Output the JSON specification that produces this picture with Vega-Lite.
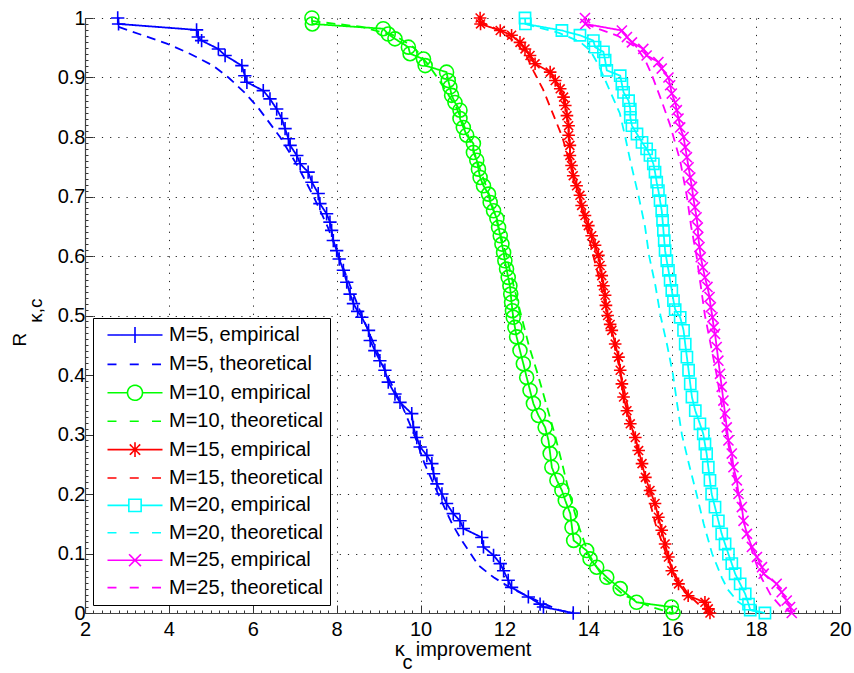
{
  "$schema": "https://vega.github.io/schema/vega-lite/v6.json",
  "width": 755,
  "height": 595,
  "autosize": {"type": "none"},
  "padding": {"left": 85, "top": 18, "right": 14, "bottom": 60},
  "config": {"view": {"stroke": null}, "font": "Liberation Sans"},
  "data": {"values": [
    {"s":"M=5, empirical","x":2.78,"y":1},{"s":"M=5, empirical","x":2.8,"y":0.99},{"s":"M=5, empirical","x":4.66,"y":0.98},{"s":"M=5, empirical","x":4.7,"y":0.968},{"s":"M=5, empirical","x":4.78,"y":0.962},{"s":"M=5, empirical","x":5.18,"y":0.948},{"s":"M=5, empirical","x":5.34,"y":0.937},{"s":"M=5, empirical","x":5.74,"y":0.92},{"s":"M=5, empirical","x":5.81,"y":0.903},{"s":"M=5, empirical","x":5.86,"y":0.892},{"s":"M=5, empirical","x":6.25,"y":0.878},{"s":"M=5, empirical","x":6.41,"y":0.864},{"s":"M=5, empirical","x":6.57,"y":0.847},{"s":"M=5, empirical","x":6.69,"y":0.831},{"s":"M=5, empirical","x":6.77,"y":0.814},{"s":"M=5, empirical","x":6.85,"y":0.797},{"s":"M=5, empirical","x":6.89,"y":0.786},{"s":"M=5, empirical","x":7.05,"y":0.769},{"s":"M=5, empirical","x":7.13,"y":0.755},{"s":"M=5, empirical","x":7.32,"y":0.741},{"s":"M=5, empirical","x":7.41,"y":0.724},{"s":"M=5, empirical","x":7.56,"y":0.705},{"s":"M=5, empirical","x":7.6,"y":0.688},{"s":"M=5, empirical","x":7.76,"y":0.671},{"s":"M=5, empirical","x":7.84,"y":0.657},{"s":"M=5, empirical","x":7.88,"y":0.643},{"s":"M=5, empirical","x":7.92,"y":0.626},{"s":"M=5, empirical","x":8.0,"y":0.609},{"s":"M=5, empirical","x":8.06,"y":0.595},{"s":"M=5, empirical","x":8.16,"y":0.576},{"s":"M=5, empirical","x":8.24,"y":0.556},{"s":"M=5, empirical","x":8.32,"y":0.536},{"s":"M=5, empirical","x":8.4,"y":0.52},{"s":"M=5, empirical","x":8.5,"y":0.507},{"s":"M=5, empirical","x":8.6,"y":0.497},{"s":"M=5, empirical","x":8.76,"y":0.475},{"s":"M=5, empirical","x":8.8,"y":0.458},{"s":"M=5, empirical","x":8.91,"y":0.441},{"s":"M=5, empirical","x":9.03,"y":0.424},{"s":"M=5, empirical","x":9.15,"y":0.408},{"s":"M=5, empirical","x":9.23,"y":0.388},{"s":"M=5, empirical","x":9.39,"y":0.368},{"s":"M=5, empirical","x":9.51,"y":0.354},{"s":"M=5, empirical","x":9.79,"y":0.335},{"s":"M=5, empirical","x":9.83,"y":0.312},{"s":"M=5, empirical","x":9.91,"y":0.295},{"s":"M=5, empirical","x":9.99,"y":0.279},{"s":"M=5, empirical","x":10.15,"y":0.265},{"s":"M=5, empirical","x":10.27,"y":0.251},{"s":"M=5, empirical","x":10.31,"y":0.234},{"s":"M=5, empirical","x":10.39,"y":0.217},{"s":"M=5, empirical","x":10.51,"y":0.2},{"s":"M=5, empirical","x":10.62,"y":0.184},{"s":"M=5, empirical","x":10.78,"y":0.167},{"s":"M=5, empirical","x":10.94,"y":0.155},{"s":"M=5, empirical","x":11.02,"y":0.142},{"s":"M=5, empirical","x":11.46,"y":0.127},{"s":"M=5, empirical","x":11.5,"y":0.111},{"s":"M=5, empirical","x":11.74,"y":0.097},{"s":"M=5, empirical","x":11.9,"y":0.083},{"s":"M=5, empirical","x":11.98,"y":0.071},{"s":"M=5, empirical","x":12.09,"y":0.055},{"s":"M=5, empirical","x":12.17,"y":0.043},{"s":"M=5, empirical","x":12.57,"y":0.027},{"s":"M=5, empirical","x":12.85,"y":0.015},{"s":"M=5, empirical","x":12.93,"y":0.01},{"s":"M=5, empirical","x":13.64,"y":0},
    {"s":"M=5, theoretical","x":2.8,"y":0.985},{"s":"M=5, theoretical","x":3.95,"y":0.957},{"s":"M=5, theoretical","x":4.5,"y":0.94},{"s":"M=5, theoretical","x":5.05,"y":0.92},{"s":"M=5, theoretical","x":5.42,"y":0.9},{"s":"M=5, theoretical","x":5.8,"y":0.875},{"s":"M=5, theoretical","x":6.12,"y":0.85},{"s":"M=5, theoretical","x":6.65,"y":0.8},{"s":"M=5, theoretical","x":7.08,"y":0.75},{"s":"M=5, theoretical","x":7.45,"y":0.7},{"s":"M=5, theoretical","x":7.78,"y":0.65},{"s":"M=5, theoretical","x":8.05,"y":0.6},{"s":"M=5, theoretical","x":8.32,"y":0.55},{"s":"M=5, theoretical","x":8.6,"y":0.5},{"s":"M=5, theoretical","x":8.9,"y":0.45},{"s":"M=5, theoretical","x":9.2,"y":0.4},{"s":"M=5, theoretical","x":9.55,"y":0.35},{"s":"M=5, theoretical","x":9.85,"y":0.3},{"s":"M=5, theoretical","x":10.1,"y":0.25},{"s":"M=5, theoretical","x":10.42,"y":0.2},{"s":"M=5, theoretical","x":10.75,"y":0.15},{"s":"M=5, theoretical","x":11.0,"y":0.12},{"s":"M=5, theoretical","x":11.38,"y":0.08},{"s":"M=5, theoretical","x":11.74,"y":0.06},{"s":"M=5, theoretical","x":12.2,"y":0.04},{"s":"M=5, theoretical","x":12.8,"y":0.02},{"s":"M=5, theoretical","x":13.3,"y":0.005},{"s":"M=5, theoretical","x":13.6,"y":0},
    {"s":"M=10, empirical","x":7.41,"y":1},{"s":"M=10, empirical","x":7.42,"y":0.99},{"s":"M=10, empirical","x":9.11,"y":0.982},{"s":"M=10, empirical","x":9.23,"y":0.973},{"s":"M=10, empirical","x":9.39,"y":0.965},{"s":"M=10, empirical","x":9.71,"y":0.951},{"s":"M=10, empirical","x":9.75,"y":0.94},{"s":"M=10, empirical","x":10.07,"y":0.931},{"s":"M=10, empirical","x":10.11,"y":0.92},{"s":"M=10, empirical","x":10.62,"y":0.909},{"s":"M=10, empirical","x":10.66,"y":0.895},{"s":"M=10, empirical","x":10.7,"y":0.884},{"s":"M=10, empirical","x":10.74,"y":0.87},{"s":"M=10, empirical","x":10.82,"y":0.858},{"s":"M=10, empirical","x":10.94,"y":0.845},{"s":"M=10, empirical","x":10.94,"y":0.831},{"s":"M=10, empirical","x":11.02,"y":0.816},{"s":"M=10, empirical","x":11.1,"y":0.803},{"s":"M=10, empirical","x":11.26,"y":0.789},{"s":"M=10, empirical","x":11.26,"y":0.774},{"s":"M=10, empirical","x":11.34,"y":0.761},{"s":"M=10, empirical","x":11.38,"y":0.746},{"s":"M=10, empirical","x":11.42,"y":0.732},{"s":"M=10, empirical","x":11.5,"y":0.718},{"s":"M=10, empirical","x":11.62,"y":0.704},{"s":"M=10, empirical","x":11.66,"y":0.69},{"s":"M=10, empirical","x":11.74,"y":0.676},{"s":"M=10, empirical","x":11.82,"y":0.663},{"s":"M=10, empirical","x":11.86,"y":0.648},{"s":"M=10, empirical","x":11.9,"y":0.634},{"s":"M=10, empirical","x":11.94,"y":0.62},{"s":"M=10, empirical","x":11.98,"y":0.606},{"s":"M=10, empirical","x":12.01,"y":0.592},{"s":"M=10, empirical","x":12.05,"y":0.578},{"s":"M=10, empirical","x":12.09,"y":0.564},{"s":"M=10, empirical","x":12.13,"y":0.55},{"s":"M=10, empirical","x":12.15,"y":0.536},{"s":"M=10, empirical","x":12.17,"y":0.522},{"s":"M=10, empirical","x":12.19,"y":0.508},{"s":"M=10, empirical","x":12.21,"y":0.497},{"s":"M=10, empirical","x":12.25,"y":0.48},{"s":"M=10, empirical","x":12.29,"y":0.464},{"s":"M=10, empirical","x":12.37,"y":0.441},{"s":"M=10, empirical","x":12.45,"y":0.419},{"s":"M=10, empirical","x":12.53,"y":0.396},{"s":"M=10, empirical","x":12.61,"y":0.374},{"s":"M=10, empirical","x":12.69,"y":0.352},{"s":"M=10, empirical","x":12.81,"y":0.332},{"s":"M=10, empirical","x":12.97,"y":0.312},{"s":"M=10, empirical","x":13.05,"y":0.29},{"s":"M=10, empirical","x":13.09,"y":0.268},{"s":"M=10, empirical","x":13.13,"y":0.245},{"s":"M=10, empirical","x":13.25,"y":0.223},{"s":"M=10, empirical","x":13.37,"y":0.206},{"s":"M=10, empirical","x":13.45,"y":0.189},{"s":"M=10, empirical","x":13.57,"y":0.167},{"s":"M=10, empirical","x":13.61,"y":0.144},{"s":"M=10, empirical","x":13.65,"y":0.122},{"s":"M=10, empirical","x":13.96,"y":0.105},{"s":"M=10, empirical","x":14.04,"y":0.091},{"s":"M=10, empirical","x":14.2,"y":0.077},{"s":"M=10, empirical","x":14.44,"y":0.06},{"s":"M=10, empirical","x":14.76,"y":0.041},{"s":"M=10, empirical","x":15.15,"y":0.018},{"s":"M=10, empirical","x":15.98,"y":0.01},{"s":"M=10, empirical","x":16.02,"y":0},
    {"s":"M=10, theoretical","x":7.4,"y":0.995},{"s":"M=10, theoretical","x":8.6,"y":0.985},{"s":"M=10, theoretical","x":9.4,"y":0.97},{"s":"M=10, theoretical","x":9.85,"y":0.95},{"s":"M=10, theoretical","x":10.2,"y":0.92},{"s":"M=10, theoretical","x":10.4,"y":0.9},{"s":"M=10, theoretical","x":10.85,"y":0.85},{"s":"M=10, theoretical","x":11.15,"y":0.8},{"s":"M=10, theoretical","x":11.4,"y":0.75},{"s":"M=10, theoretical","x":11.65,"y":0.7},{"s":"M=10, theoretical","x":11.85,"y":0.65},{"s":"M=10, theoretical","x":12.05,"y":0.6},{"s":"M=10, theoretical","x":12.22,"y":0.55},{"s":"M=10, theoretical","x":12.4,"y":0.5},{"s":"M=10, theoretical","x":12.58,"y":0.45},{"s":"M=10, theoretical","x":12.8,"y":0.4},{"s":"M=10, theoretical","x":13.0,"y":0.35},{"s":"M=10, theoretical","x":13.2,"y":0.3},{"s":"M=10, theoretical","x":13.38,"y":0.25},{"s":"M=10, theoretical","x":13.55,"y":0.2},{"s":"M=10, theoretical","x":13.75,"y":0.15},{"s":"M=10, theoretical","x":14.0,"y":0.1},{"s":"M=10, theoretical","x":14.35,"y":0.06},{"s":"M=10, theoretical","x":14.85,"y":0.03},{"s":"M=10, theoretical","x":15.5,"y":0.01},{"s":"M=10, theoretical","x":16.0,"y":0},
    {"s":"M=15, empirical","x":11.42,"y":1},{"s":"M=15, empirical","x":11.43,"y":0.99},{"s":"M=15, empirical","x":11.9,"y":0.979},{"s":"M=15, empirical","x":12.17,"y":0.971},{"s":"M=15, empirical","x":12.37,"y":0.959},{"s":"M=15, empirical","x":12.49,"y":0.948},{"s":"M=15, empirical","x":12.61,"y":0.937},{"s":"M=15, empirical","x":12.73,"y":0.923},{"s":"M=15, empirical","x":13.09,"y":0.909},{"s":"M=15, empirical","x":13.21,"y":0.895},{"s":"M=15, empirical","x":13.33,"y":0.881},{"s":"M=15, empirical","x":13.41,"y":0.867},{"s":"M=15, empirical","x":13.45,"y":0.853},{"s":"M=15, empirical","x":13.49,"y":0.836},{"s":"M=15, empirical","x":13.53,"y":0.819},{"s":"M=15, empirical","x":13.53,"y":0.803},{"s":"M=15, empirical","x":13.56,"y":0.786},{"s":"M=15, empirical","x":13.56,"y":0.769},{"s":"M=15, empirical","x":13.6,"y":0.752},{"s":"M=15, empirical","x":13.64,"y":0.735},{"s":"M=15, empirical","x":13.72,"y":0.718},{"s":"M=15, empirical","x":13.8,"y":0.702},{"s":"M=15, empirical","x":13.84,"y":0.685},{"s":"M=15, empirical","x":13.92,"y":0.668},{"s":"M=15, empirical","x":14.0,"y":0.651},{"s":"M=15, empirical","x":14.08,"y":0.634},{"s":"M=15, empirical","x":14.16,"y":0.618},{"s":"M=15, empirical","x":14.24,"y":0.601},{"s":"M=15, empirical","x":14.28,"y":0.584},{"s":"M=15, empirical","x":14.32,"y":0.567},{"s":"M=15, empirical","x":14.36,"y":0.55},{"s":"M=15, empirical","x":14.4,"y":0.534},{"s":"M=15, empirical","x":14.42,"y":0.517},{"s":"M=15, empirical","x":14.46,"y":0.5},{"s":"M=15, empirical","x":14.52,"y":0.485},{"s":"M=15, empirical","x":14.56,"y":0.475},{"s":"M=15, empirical","x":14.64,"y":0.452},{"s":"M=15, empirical","x":14.72,"y":0.43},{"s":"M=15, empirical","x":14.76,"y":0.408},{"s":"M=15, empirical","x":14.8,"y":0.385},{"s":"M=15, empirical","x":14.84,"y":0.363},{"s":"M=15, empirical","x":14.92,"y":0.34},{"s":"M=15, empirical","x":15.0,"y":0.318},{"s":"M=15, empirical","x":15.12,"y":0.295},{"s":"M=15, empirical","x":15.2,"y":0.273},{"s":"M=15, empirical","x":15.28,"y":0.251},{"s":"M=15, empirical","x":15.36,"y":0.228},{"s":"M=15, empirical","x":15.47,"y":0.206},{"s":"M=15, empirical","x":15.59,"y":0.184},{"s":"M=15, empirical","x":15.67,"y":0.161},{"s":"M=15, empirical","x":15.75,"y":0.139},{"s":"M=15, empirical","x":15.83,"y":0.116},{"s":"M=15, empirical","x":15.91,"y":0.094},{"s":"M=15, empirical","x":15.99,"y":0.071},{"s":"M=15, empirical","x":16.15,"y":0.049},{"s":"M=15, empirical","x":16.38,"y":0.029},{"s":"M=15, empirical","x":16.78,"y":0.018},{"s":"M=15, empirical","x":16.86,"y":0.007},{"s":"M=15, empirical","x":16.9,"y":0},
    {"s":"M=15, theoretical","x":11.4,"y":0.995},{"s":"M=15, theoretical","x":11.85,"y":0.98},{"s":"M=15, theoretical","x":12.25,"y":0.96},{"s":"M=15, theoretical","x":12.5,"y":0.94},{"s":"M=15, theoretical","x":12.7,"y":0.91},{"s":"M=15, theoretical","x":12.92,"y":0.88},{"s":"M=15, theoretical","x":13.15,"y":0.84},{"s":"M=15, theoretical","x":13.38,"y":0.8},{"s":"M=15, theoretical","x":13.58,"y":0.75},{"s":"M=15, theoretical","x":13.78,"y":0.7},{"s":"M=15, theoretical","x":13.95,"y":0.65},{"s":"M=15, theoretical","x":14.12,"y":0.6},{"s":"M=15, theoretical","x":14.3,"y":0.55},{"s":"M=15, theoretical","x":14.46,"y":0.5},{"s":"M=15, theoretical","x":14.62,"y":0.45},{"s":"M=15, theoretical","x":14.78,"y":0.4},{"s":"M=15, theoretical","x":14.93,"y":0.35},{"s":"M=15, theoretical","x":15.08,"y":0.3},{"s":"M=15, theoretical","x":15.25,"y":0.25},{"s":"M=15, theoretical","x":15.42,"y":0.2},{"s":"M=15, theoretical","x":15.6,"y":0.15},{"s":"M=15, theoretical","x":15.85,"y":0.1},{"s":"M=15, theoretical","x":16.1,"y":0.06},{"s":"M=15, theoretical","x":16.4,"y":0.03},{"s":"M=15, theoretical","x":16.7,"y":0.01},{"s":"M=15, theoretical","x":16.9,"y":0},
    {"s":"M=20, empirical","x":12.49,"y":1},{"s":"M=20, empirical","x":12.5,"y":0.99},{"s":"M=20, empirical","x":13.37,"y":0.979},{"s":"M=20, empirical","x":13.8,"y":0.971},{"s":"M=20, empirical","x":14.12,"y":0.962},{"s":"M=20, empirical","x":14.16,"y":0.951},{"s":"M=20, empirical","x":14.36,"y":0.943},{"s":"M=20, empirical","x":14.4,"y":0.929},{"s":"M=20, empirical","x":14.44,"y":0.912},{"s":"M=20, empirical","x":14.76,"y":0.903},{"s":"M=20, empirical","x":14.8,"y":0.889},{"s":"M=20, empirical","x":14.84,"y":0.875},{"s":"M=20, empirical","x":14.96,"y":0.861},{"s":"M=20, empirical","x":15.0,"y":0.847},{"s":"M=20, empirical","x":15.0,"y":0.833},{"s":"M=20, empirical","x":15.04,"y":0.819},{"s":"M=20, empirical","x":15.16,"y":0.805},{"s":"M=20, empirical","x":15.28,"y":0.791},{"s":"M=20, empirical","x":15.39,"y":0.78},{"s":"M=20, empirical","x":15.47,"y":0.769},{"s":"M=20, empirical","x":15.55,"y":0.755},{"s":"M=20, empirical","x":15.59,"y":0.741},{"s":"M=20, empirical","x":15.63,"y":0.724},{"s":"M=20, empirical","x":15.67,"y":0.71},{"s":"M=20, empirical","x":15.71,"y":0.693},{"s":"M=20, empirical","x":15.75,"y":0.676},{"s":"M=20, empirical","x":15.77,"y":0.66},{"s":"M=20, empirical","x":15.79,"y":0.643},{"s":"M=20, empirical","x":15.81,"y":0.626},{"s":"M=20, empirical","x":15.83,"y":0.609},{"s":"M=20, empirical","x":15.87,"y":0.592},{"s":"M=20, empirical","x":15.91,"y":0.576},{"s":"M=20, empirical","x":15.95,"y":0.559},{"s":"M=20, empirical","x":15.99,"y":0.542},{"s":"M=20, empirical","x":16.03,"y":0.525},{"s":"M=20, empirical","x":16.07,"y":0.51},{"s":"M=20, empirical","x":16.19,"y":0.497},{"s":"M=20, empirical","x":16.27,"y":0.475},{"s":"M=20, empirical","x":16.31,"y":0.452},{"s":"M=20, empirical","x":16.35,"y":0.43},{"s":"M=20, empirical","x":16.39,"y":0.408},{"s":"M=20, empirical","x":16.43,"y":0.385},{"s":"M=20, empirical","x":16.47,"y":0.363},{"s":"M=20, empirical","x":16.55,"y":0.34},{"s":"M=20, empirical","x":16.66,"y":0.318},{"s":"M=20, empirical","x":16.74,"y":0.301},{"s":"M=20, empirical","x":16.78,"y":0.284},{"s":"M=20, empirical","x":16.82,"y":0.268},{"s":"M=20, empirical","x":16.86,"y":0.245},{"s":"M=20, empirical","x":16.9,"y":0.223},{"s":"M=20, empirical","x":16.94,"y":0.2},{"s":"M=20, empirical","x":17.02,"y":0.178},{"s":"M=20, empirical","x":17.1,"y":0.155},{"s":"M=20, empirical","x":17.18,"y":0.133},{"s":"M=20, empirical","x":17.26,"y":0.116},{"s":"M=20, empirical","x":17.34,"y":0.099},{"s":"M=20, empirical","x":17.42,"y":0.083},{"s":"M=20, empirical","x":17.5,"y":0.066},{"s":"M=20, empirical","x":17.62,"y":0.049},{"s":"M=20, empirical","x":17.74,"y":0.032},{"s":"M=20, empirical","x":17.82,"y":0.015},{"s":"M=20, empirical","x":17.86,"y":0.005},{"s":"M=20, empirical","x":18.21,"y":0},
    {"s":"M=20, theoretical","x":12.5,"y":0.99},{"s":"M=20, theoretical","x":13.3,"y":0.975},{"s":"M=20, theoretical","x":13.8,"y":0.96},{"s":"M=20, theoretical","x":14.05,"y":0.945},{"s":"M=20, theoretical","x":14.25,"y":0.92},{"s":"M=20, theoretical","x":14.5,"y":0.88},{"s":"M=20, theoretical","x":14.75,"y":0.84},{"s":"M=20, theoretical","x":14.88,"y":0.8},{"s":"M=20, theoretical","x":15.0,"y":0.76},{"s":"M=20, theoretical","x":15.2,"y":0.7},{"s":"M=20, theoretical","x":15.35,"y":0.65},{"s":"M=20, theoretical","x":15.45,"y":0.6},{"s":"M=20, theoretical","x":15.6,"y":0.55},{"s":"M=20, theoretical","x":15.72,"y":0.5},{"s":"M=20, theoretical","x":15.88,"y":0.45},{"s":"M=20, theoretical","x":16.02,"y":0.4},{"s":"M=20, theoretical","x":16.12,"y":0.35},{"s":"M=20, theoretical","x":16.23,"y":0.3},{"s":"M=20, theoretical","x":16.4,"y":0.25},{"s":"M=20, theoretical","x":16.58,"y":0.2},{"s":"M=20, theoretical","x":16.75,"y":0.15},{"s":"M=20, theoretical","x":16.95,"y":0.1},{"s":"M=20, theoretical","x":17.18,"y":0.06},{"s":"M=20, theoretical","x":17.32,"y":0.04},{"s":"M=20, theoretical","x":17.55,"y":0.02},{"s":"M=20, theoretical","x":17.85,"y":0.005},{"s":"M=20, theoretical","x":18.2,"y":0},
    {"s":"M=25, empirical","x":13.92,"y":1},{"s":"M=25, empirical","x":13.93,"y":0.99},{"s":"M=25, empirical","x":14.8,"y":0.979},{"s":"M=25, empirical","x":14.92,"y":0.968},{"s":"M=25, empirical","x":15.04,"y":0.959},{"s":"M=25, empirical","x":15.31,"y":0.948},{"s":"M=25, empirical","x":15.39,"y":0.937},{"s":"M=25, empirical","x":15.67,"y":0.926},{"s":"M=25, empirical","x":15.75,"y":0.915},{"s":"M=25, empirical","x":15.91,"y":0.9},{"s":"M=25, empirical","x":15.95,"y":0.887},{"s":"M=25, empirical","x":15.99,"y":0.873},{"s":"M=25, empirical","x":16.07,"y":0.858},{"s":"M=25, empirical","x":16.11,"y":0.845},{"s":"M=25, empirical","x":16.15,"y":0.831},{"s":"M=25, empirical","x":16.19,"y":0.816},{"s":"M=25, empirical","x":16.27,"y":0.8},{"s":"M=25, empirical","x":16.31,"y":0.783},{"s":"M=25, empirical","x":16.35,"y":0.766},{"s":"M=25, empirical","x":16.39,"y":0.749},{"s":"M=25, empirical","x":16.43,"y":0.732},{"s":"M=25, empirical","x":16.47,"y":0.716},{"s":"M=25, empirical","x":16.5,"y":0.699},{"s":"M=25, empirical","x":16.54,"y":0.682},{"s":"M=25, empirical","x":16.58,"y":0.665},{"s":"M=25, empirical","x":16.61,"y":0.648},{"s":"M=25, empirical","x":16.62,"y":0.632},{"s":"M=25, empirical","x":16.65,"y":0.615},{"s":"M=25, empirical","x":16.68,"y":0.598},{"s":"M=25, empirical","x":16.73,"y":0.581},{"s":"M=25, empirical","x":16.78,"y":0.564},{"s":"M=25, empirical","x":16.84,"y":0.548},{"s":"M=25, empirical","x":16.89,"y":0.531},{"s":"M=25, empirical","x":16.92,"y":0.514},{"s":"M=25, empirical","x":16.96,"y":0.497},{"s":"M=25, empirical","x":16.99,"y":0.48},{"s":"M=25, empirical","x":17.02,"y":0.469},{"s":"M=25, empirical","x":17.06,"y":0.447},{"s":"M=25, empirical","x":17.1,"y":0.424},{"s":"M=25, empirical","x":17.14,"y":0.402},{"s":"M=25, empirical","x":17.18,"y":0.38},{"s":"M=25, empirical","x":17.22,"y":0.357},{"s":"M=25, empirical","x":17.26,"y":0.335},{"s":"M=25, empirical","x":17.3,"y":0.312},{"s":"M=25, empirical","x":17.34,"y":0.29},{"s":"M=25, empirical","x":17.42,"y":0.268},{"s":"M=25, empirical","x":17.46,"y":0.245},{"s":"M=25, empirical","x":17.54,"y":0.223},{"s":"M=25, empirical","x":17.58,"y":0.2},{"s":"M=25, empirical","x":17.66,"y":0.178},{"s":"M=25, empirical","x":17.7,"y":0.155},{"s":"M=25, empirical","x":17.78,"y":0.133},{"s":"M=25, empirical","x":17.9,"y":0.111},{"s":"M=25, empirical","x":18.02,"y":0.094},{"s":"M=25, empirical","x":18.14,"y":0.077},{"s":"M=25, empirical","x":18.18,"y":0.066},{"s":"M=25, empirical","x":18.49,"y":0.049},{"s":"M=25, empirical","x":18.61,"y":0.035},{"s":"M=25, empirical","x":18.73,"y":0.021},{"s":"M=25, empirical","x":18.81,"y":0.01},{"s":"M=25, empirical","x":18.85,"y":0},
    {"s":"M=25, theoretical","x":13.92,"y":0.99},{"s":"M=25, theoretical","x":14.7,"y":0.97},{"s":"M=25, theoretical","x":15.15,"y":0.95},{"s":"M=25, theoretical","x":15.35,"y":0.93},{"s":"M=25, theoretical","x":15.51,"y":0.905},{"s":"M=25, theoretical","x":15.75,"y":0.86},{"s":"M=25, theoretical","x":15.95,"y":0.82},{"s":"M=25, theoretical","x":16.19,"y":0.76},{"s":"M=25, theoretical","x":16.35,"y":0.7},{"s":"M=25, theoretical","x":16.45,"y":0.65},{"s":"M=25, theoretical","x":16.58,"y":0.6},{"s":"M=25, theoretical","x":16.68,"y":0.55},{"s":"M=25, theoretical","x":16.78,"y":0.5},{"s":"M=25, theoretical","x":16.92,"y":0.45},{"s":"M=25, theoretical","x":17.06,"y":0.4},{"s":"M=25, theoretical","x":17.18,"y":0.35},{"s":"M=25, theoretical","x":17.3,"y":0.3},{"s":"M=25, theoretical","x":17.42,"y":0.25},{"s":"M=25, theoretical","x":17.56,"y":0.2},{"s":"M=25, theoretical","x":17.72,"y":0.15},{"s":"M=25, theoretical","x":17.92,"y":0.1},{"s":"M=25, theoretical","x":18.12,"y":0.06},{"s":"M=25, theoretical","x":18.35,"y":0.03},{"s":"M=25, theoretical","x":18.6,"y":0.01},{"s":"M=25, theoretical","x":18.85,"y":0}
  ]},
  "encoding": {
    "x": {"field": "x", "type": "quantitative",
      "scale": {"domain": [2, 20], "nice": false, "zero": false},
      "axis": {
        "title": ["κ\u00a0\u00a0improvement", "c\u00a0\u00a0\u00a0\u00a0\u00a0\u00a0\u00a0\u00a0\u00a0\u00a0\u00a0\u00a0\u00a0\u00a0\u00a0\u00a0\u00a0\u00a0\u00a0\u00a0\u200b"],
        "titleFont": "Liberation Sans", "titleFontSize": 20, "titleFontWeight": "normal", "titleColor": "#000",
        "titleBaseline": "alphabetic", "titleY": 42, "titleLineHeight": 13,
        "values": [2,2.2,2.4,2.6,2.8,3,3.2,3.4,3.6,3.8,4,4.2,4.4,4.6,4.8,5,5.2,5.4,5.6,5.8,6,6.2,6.4,6.6,6.8,7,7.2,7.4,7.6,7.8,8,8.2,8.4,8.6,8.8,9,9.2,9.4,9.6,9.8,10,10.2,10.4,10.6,10.8,11,11.2,11.4,11.6,11.8,12,12.2,12.4,12.6,12.8,13,13.2,13.4,13.6,13.8,14,14.2,14.4,14.6,14.8,15,15.2,15.4,15.6,15.8,16,16.2,16.4,16.6,16.8,17,17.2,17.4,17.6,17.8,18,18.2,18.4,18.6,18.8,19,19.2,19.4,19.6,19.8,20],
        "labelExpr": "abs(datum.value/2-round(datum.value/2))<0.01 ? format(datum.value,'d') : ''",
        "labelFont": "Liberation Sans", "labelFontSize": 20, "labelColor": "#000",
        "labelOverlap": false, "labelFlush": false, "labelPadding": 14,
        "tickSize": {"condition": {"test": "abs(datum.value/2-round(datum.value/2))<0.01", "value": -8}, "value": -3},
        "tickColor": "#333", "tickWidth": 1,
        "domainColor": "#444", "domainWidth": 1.2,
        "grid": true, "gridColor": "#222", "gridDash": [1.2, 7], "gridWidth": 1,
        "gridOpacity": {"condition": {"test": "abs(datum.value/2-round(datum.value/2))<0.01", "value": 1}, "value": 0}
      }},
    "y": {"field": "y", "type": "quantitative",
      "scale": {"domain": [0, 1], "nice": false},
      "axis": {
        "title": ["R\u00a0\u00a0\u00a0\u00a0\u00a0\u00a0\u00a0\u00a0\u00a0\u200b", "\u200b\u00a0\u00a0κ,c"],
        "titleFont": "Liberation Sans", "titleFontSize": 19, "titleFontWeight": "normal", "titleColor": "#000",
        "titleBaseline": "alphabetic", "titleX": -60, "titleLineHeight": 16,
        "values": [0,0.01,0.02,0.03,0.04,0.05,0.06,0.07,0.08,0.09,0.1,0.11,0.12,0.13,0.14,0.15,0.16,0.17,0.18,0.19,0.2,0.21,0.22,0.23,0.24,0.25,0.26,0.27,0.28,0.29,0.3,0.31,0.32,0.33,0.34,0.35,0.36,0.37,0.38,0.39,0.4,0.41,0.42,0.43,0.44,0.45,0.46,0.47,0.48,0.49,0.5,0.51,0.52,0.53,0.54,0.55,0.56,0.57,0.58,0.59,0.6,0.61,0.62,0.63,0.64,0.65,0.66,0.67,0.68,0.69,0.7,0.71,0.72,0.73,0.74,0.75,0.76,0.77,0.78,0.79,0.8,0.81,0.82,0.83,0.84,0.85,0.86,0.87,0.88,0.89,0.9,0.91,0.92,0.93,0.94,0.95,0.96,0.97,0.98,0.99,1],
        "labelExpr": "abs(datum.value*10-round(datum.value*10))<0.01 ? format(datum.value,'~g') : ''",
        "labelFont": "Liberation Sans", "labelFontSize": 20, "labelColor": "#000",
        "labelOverlap": false, "labelFlush": false, "labelPadding": 8,
        "tickSize": {"condition": {"test": "abs(datum.value*10-round(datum.value*10))<0.01", "value": -8}, "value": -3},
        "tickColor": "#333", "tickWidth": 1,
        "domainColor": "#444", "domainWidth": 1.2,
        "grid": true, "gridColor": "#222", "gridDash": [1.2, 7], "gridWidth": 1,
        "gridOpacity": {"condition": {"test": "abs(datum.value*10-round(datum.value*10))<0.01", "value": 1}, "value": 0}
      }}
  },
  "layer": [
    {
      "mark": {"type": "line", "strokeWidth": 1.8},
      "encoding": {
        "color": {"field": "s", "type": "nominal",
          "scale": {
            "domain": ["M=5, empirical","M=5, theoretical","M=10, empirical","M=10, theoretical","M=15, empirical","M=15, theoretical","M=20, empirical","M=20, theoretical","M=25, empirical","M=25, theoretical"],
            "range": ["#0000ff","#0000ff","#00ff00","#00ff00","#ff0000","#ff0000","#00ffff","#00ffff","#ff00ff","#ff00ff"]},
          "legend": {
            "title": null, "orient": "bottom-left", "offset": 8,
            "padding": 7, "strokeColor": "#000", "fillColor": "#ffffff",
            "symbolSize": 196, "symbolStrokeWidth": 1.6, "symbolOffset": 25,
            "labelOffset": 24, "rowPadding": 7.4,
            "labelFont": "Liberation Sans", "labelFontSize": 20, "labelColor": "#000", "labelLimit": 400,
            "encode": {"symbols": {"update": {
              "shape": {"signal": "indexof(datum.value,'theoretical')>=0 ? 'M-3.93,0H-2.43M-0.75,0H0.75M2.43,0H3.93' : datum.value==='M=5, empirical' ? 'M-3.93,0H3.93M0,-1.15V1.15' : datum.value==='M=10, empirical' ? 'M-3.93,0H-1.07M1.07,0H3.93M-1.07,0A1.07,1.07,0,1,0,1.07,0A1.07,1.07,0,1,0,-1.07,0Z' : datum.value==='M=15, empirical' ? 'M-3.93,0H3.93M0,-1.05V1.05M-0.74,-0.74L0.74,0.74M-0.74,0.74L0.74,-0.74' : datum.value==='M=20, empirical' ? 'M-3.93,0H-0.88M0.88,0H3.93M-0.88,-0.88H0.88V0.88H-0.88Z' : 'M-3.93,0H3.93M-0.85,-0.85L0.85,0.85M-0.85,0.85L0.85,-0.85'"},
              "fill": {"value": "transparent"},
              "strokeDash": {"value": [1, 0]},
              "opacity": {"value": 1}
            }}}
          }},
        "strokeDash": {"field": "s", "type": "nominal", "legend": null,
          "scale": {
            "domain": ["M=5, empirical","M=5, theoretical","M=10, empirical","M=10, theoretical","M=15, empirical","M=15, theoretical","M=20, empirical","M=20, theoretical","M=25, empirical","M=25, theoretical"],
            "range": [[1,0],[9,6],[1,0],[9,6],[1,0],[9,6],[1,0],[9,6],[1,0],[9,6]]}},
        "order": {"field": "y", "sort": "descending"}
      }
    },
    {
      "transform": [{"filter": "indexof(datum.s,'empirical')>=0"}],
      "mark": {"type": "point", "filled": false, "size": 196, "strokeWidth": 1.6, "opacity": 1},
      "encoding": {
        "color": {"field": "s", "type": "nominal"},
        "shape": {"field": "s", "type": "nominal", "legend": null,
          "scale": {
            "domain": ["M=5, empirical","M=10, empirical","M=15, empirical","M=20, empirical","M=25, empirical"],
            "range": ["M0,-0.95V0.95M-0.95,0H0.95","M-1,0A1,1,0,1,0,1,0A1,1,0,1,0,-1,0Z","M0,-0.9V0.9M-0.9,0H0.9M-0.64,-0.64L0.64,0.64M-0.64,0.64L0.64,-0.64","M-0.8,-0.8H0.8V0.8H-0.8Z","M-0.72,-0.72L0.72,0.72M-0.72,0.72L0.72,-0.72"]}}
      }
    }
  ]
}
